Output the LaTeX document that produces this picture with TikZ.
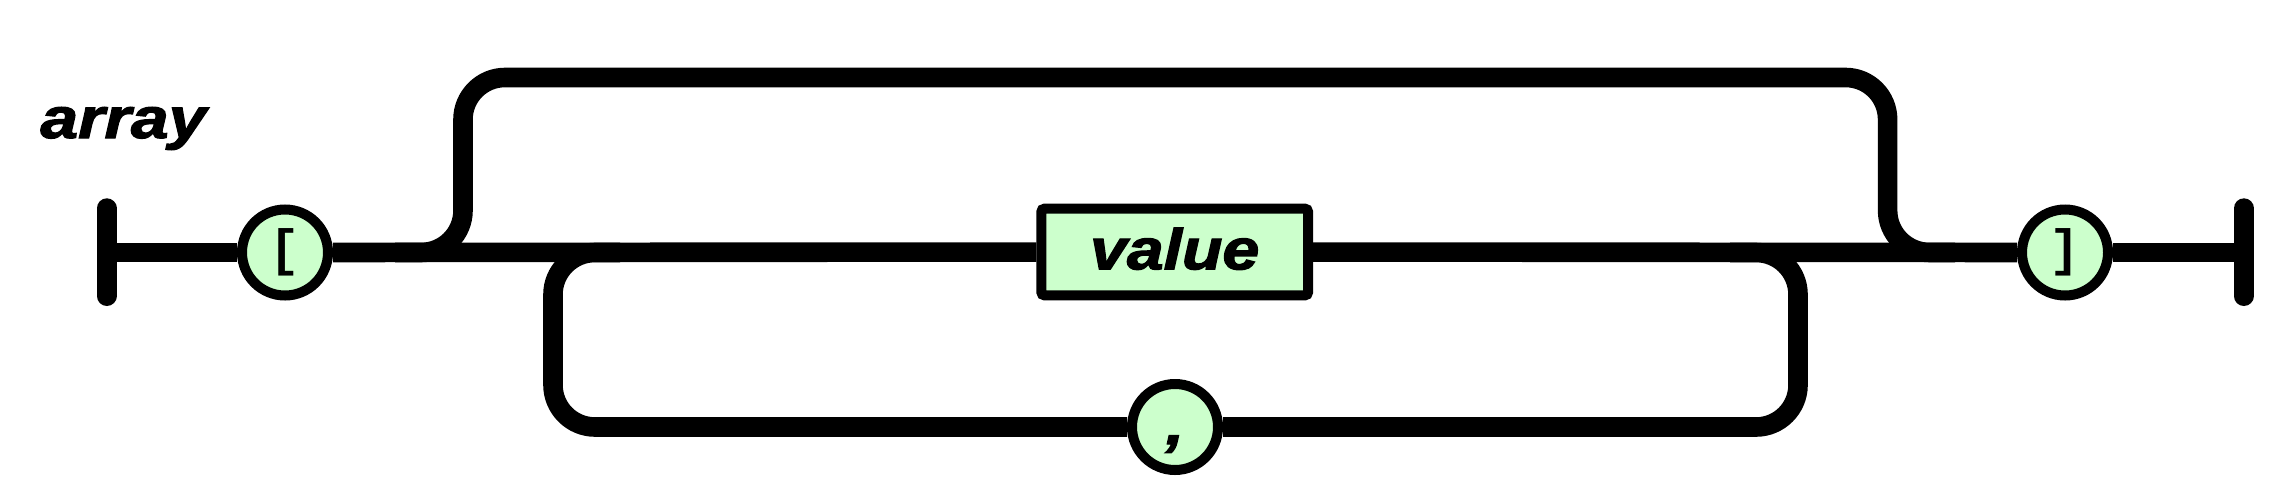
\documentclass[tikz,border=0pt]{standalone}
\usepackage{graphicx}
\usepackage{fontspec}
\setmainfont{Liberation Sans}
\newfontfamily\monofont{Liberation Mono}
\newfontfamily\railfont[FakeBold=2]{Liberation Sans Bold Italic}
\definecolor{termgreen}{RGB}{204,255,204}
\tikzset{
  rail/.style={line width=9.8pt, line cap=butt, line join=round},
  endbar/.style={line width=10pt, line cap=round},
  term/.style={circle, draw=black, line width=5pt, fill=termgreen, minimum size=43pt, inner sep=0pt},
  nonterm/.style={rectangle, draw=black, line width=5pt, fill=termgreen, rounded corners=1.5pt,
    minimum width=133.3pt, minimum height=43.3pt, inner sep=0pt},
  railtext/.style={font=\fontsize{28.75pt}{30pt}\railfont},
  brtext/.style={font=\fontsize{25.5pt}{27pt}\monofont\bfseries}
}
\begin{document}
\begin{tikzpicture}[x=0.5pt,y=-0.5pt]
\useasboundingbox (0,0) rectangle (2274,493);
% title
\node[railtext, anchor=base west, inner sep=0pt] (title) at (40,138) {\scalebox{1.18}[1]{array}};
% nodes
\coordinate (st) at (106.7,252.5);
\coordinate (en) at (2243.8,252.5);
\node[term, brtext] (lb) at (285,252.5) {[};
\node[nonterm, railtext, text height=20.5pt, text depth=3.2pt] (val) at (1174.7,252) {\scalebox{1.15}[1]{value}};
\node[term, brtext] (rb) at (2065,252.5) {]};
\node[term, railtext, text height=17pt, text depth=0pt] (cm) at (1175,427) {\scalebox{1.15}[1]{,}};
% end bars
\draw[endbar] (106.7,208.3) -- (106.7,296);
\draw[endbar] (2243.8,208.3) -- (2243.8,296);
% main line
\draw[rail] (st) -- (lb);
\draw[rail] (lb) -- (val);
\draw[rail] (val) -- (rb);
\draw[rail] (rb) -- (en);
% upper bypass (empty array)
\coordinate (sp) at (395,252.5);
\coordinate (ul) at (463,77.5);
\coordinate (ur) at (1887.6,77.5);
\coordinate (jp) at (1955,252.5);
\draw[rail, rounded corners=21pt] (sp) -| (ul) -- (ur) |- (jp);
% lower loop (comma separated values)
\coordinate (lp1) at (1730,252.5);
\coordinate (lr) at (1798,427);
\coordinate (ll) at (553,427);
\coordinate (lp2) at (620,252.5);
\draw[rail, rounded corners=21pt] (lp1) -| (lr) -- (cm);
\draw[rail, rounded corners=21pt] (cm) -- (ll) |- (lp2);
\end{tikzpicture}
\end{document}
